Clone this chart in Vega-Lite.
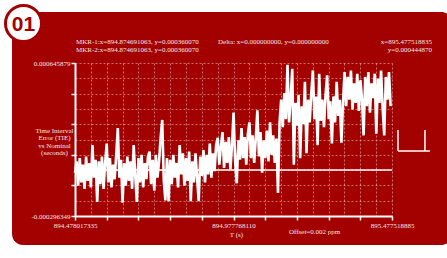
{
 "$schema": "https://vega.github.io/schema/vega-lite/v6.json",
 "width": 317, "height": 153,
 "autosize": {"type": "none"},
 "padding": {"left": 75, "top": 63, "right": 55, "bottom": 42},
 "background": "white",
 "config": {"view": {"stroke": null}, "font": "Liberation Serif"},
 "datasets": {
  "card": [{"t": -198.6, "t2": 1188.7, "y": -474.9, "y2": 960}],
  "rules": [
   {"t": 0, "t2": 999.5, "y": -13.68, "y2": -13.68},
   {"t": 1018.4, "t2": 1018.4, "y": 104, "y2": 233},
   {"t": 1018.4, "t2": 1119, "y": 104, "y2": 104},
   {"t": 1103.4, "t2": 1103.4, "y": 104, "y2": 233}
  ],
  "signal": [
   {"t":0,"y":-30},{"t":5,"y":40},{"t":10,"y":-110},{"t":15,"y":60},{"t":20,"y":-90},{"t":25,"y":20},{"t":30,"y":-130},{"t":35,"y":70},{"t":40,"y":-80},{"t":45,"y":30},
   {"t":50,"y":-120},{"t":55,"y":140},{"t":60,"y":-60},{"t":65,"y":50},{"t":70,"y":-210},{"t":75,"y":40},{"t":80,"y":-100},{"t":85,"y":70},{"t":90,"y":-130},{"t":95,"y":30},
   {"t":100,"y":150},{"t":105,"y":-90},{"t":110,"y":60},{"t":115,"y":-120},{"t":120,"y":20},{"t":125,"y":-70},{"t":130,"y":80},{"t":135,"y":245},{"t":140,"y":-60},{"t":145,"y":50},
   {"t":150,"y":-215},{"t":155,"y":30},{"t":160,"y":-110},{"t":165,"y":70},{"t":170,"y":-80},{"t":175,"y":40},{"t":180,"y":-130},{"t":185,"y":140},{"t":190,"y":-50},{"t":195,"y":-210},
   {"t":200,"y":60},{"t":205,"y":-90},{"t":210,"y":80},{"t":215,"y":-120},{"t":220,"y":30},{"t":225,"y":-70},{"t":230,"y":70},{"t":235,"y":100},{"t":240,"y":-100},{"t":245,"y":50},
   {"t":250,"y":-140},{"t":255,"y":80},{"t":260,"y":-60},{"t":265,"y":40},{"t":270,"y":185},{"t":275,"y":295},{"t":280,"y":-80},{"t":285,"y":-200},{"t":290,"y":60},{"t":295,"y":-205},
   {"t":300,"y":50},{"t":305,"y":-100},{"t":310,"y":80},{"t":315,"y":-60},{"t":320,"y":30},{"t":325,"y":-120},{"t":330,"y":140},{"t":335,"y":-40},{"t":340,"y":90},{"t":345,"y":-110},
   {"t":350,"y":60},{"t":355,"y":-80},{"t":360,"y":100},{"t":365,"y":-205},{"t":370,"y":40},{"t":375,"y":-90},{"t":380,"y":90},{"t":385,"y":-60},{"t":390,"y":-205},{"t":395,"y":70},
   {"t":400,"y":-50},{"t":405,"y":110},{"t":410,"y":-90},{"t":415,"y":80},{"t":420,"y":-40},{"t":425,"y":150},{"t":430,"y":-60},{"t":435,"y":90},
   {"t":440,"y":-20},{"t":445,"y":140},{"t":450,"y":185},{"t":455,"y":20},{"t":460,"y":130},{"t":465,"y":220},{"t":470,"y":0},{"t":475,"y":160},{"t":480,"y":30},{"t":485,"y":190},
   {"t":490,"y":-10},{"t":495,"y":140},{"t":500,"y":340},{"t":505,"y":40},{"t":510,"y":-95},{"t":515,"y":170},{"t":520,"y":50},{"t":525,"y":245},{"t":530,"y":60},{"t":535,"y":190},
   {"t":540,"y":20},{"t":545,"y":210},{"t":550,"y":280},{"t":555,"y":60},{"t":560,"y":200},{"t":565,"y":30},{"t":570,"y":180},{"t":575,"y":355},{"t":580,"y":70},{"t":585,"y":220},
   {"t":590,"y":-30},{"t":595,"y":170},{"t":600,"y":60},{"t":605,"y":230},{"t":610,"y":40},{"t":615,"y":280},{"t":620,"y":80},{"t":625,"y":200},{"t":630,"y":30},{"t":635,"y":180},
   {"t":640,"y":-155},
   {"t":645,"y":280},{"t":650,"y":420},{"t":655,"y":250},{"t":660,"y":460},{"t":665,"y":300},{"t":670,"y":635},{"t":675,"y":280},{"t":680,"y":430},{"t":685,"y":610},{"t":690,"y":20},
   {"t":695,"y":400},{"t":700,"y":260},{"t":705,"y":450},{"t":710,"y":60},{"t":715,"y":380},{"t":720,"y":270},{"t":725,"y":530},{"t":730,"y":90},{"t":735,"y":420},{"t":740,"y":280},
   {"t":745,"y":460},{"t":750,"y":600},{"t":755,"y":300},{"t":760,"y":440},{"t":765,"y":140},{"t":770,"y":580},{"t":775,"y":290},{"t":780,"y":420},{"t":785,"y":250},{"t":790,"y":450},
   {"t":795,"y":570},{"t":800,"y":300},{"t":805,"y":410},{"t":810,"y":150},{"t":815,"y":440},{"t":820,"y":280},{"t":825,"y":530},{"t":830,"y":320},{"t":835,"y":420},{"t":840,"y":155},
   {"t":845,"y":400},
   {"t":850,"y":590},{"t":855,"y":380},{"t":860,"y":560},{"t":865,"y":420},{"t":870,"y":600},{"t":875,"y":360},{"t":880,"y":520},{"t":885,"y":400},{"t":890,"y":580},{"t":895,"y":350},
   {"t":900,"y":540},{"t":905,"y":420},{"t":910,"y":200},{"t":915,"y":560},{"t":920,"y":380},{"t":925,"y":590},{"t":930,"y":340},{"t":935,"y":520},{"t":940,"y":430},{"t":945,"y":580},
   {"t":950,"y":210},{"t":955,"y":550},{"t":960,"y":400},{"t":965,"y":600},{"t":970,"y":370},{"t":975,"y":200},{"t":980,"y":560},{"t":985,"y":420},{"t":990,"y":590},{"t":995,"y":380}
  ],
  "notes_l": [
   {"t": 3.2, "y": 777, "txt": "MKR-1:x=894.874691063, y=0.000360070"},
   {"t": 3.2, "y": 726, "txt": "MKR-2:x=894.874691063, y=0.000360070"},
   {"t": 450.9, "y": 777, "txt": "Delta: x=0.000000000, y=0.000000000"},
   {"t": 674.7, "y": -394.9, "txt": "Offset=0.002 ppm"}
  ],
  "notes_r": [
   {"t": 1125.6, "y": 777, "txt": "x=895.477518835"},
   {"t": 1125.6, "y": 726, "txt": "y=0.000444870"}
  ],
  "badge": [{"t": -162.4, "y": 889.1, "txt": "01"}]
 },
 "encoding": {
  "x": {
   "field": "t", "type": "quantitative",
   "scale": {"domain": [0, 999.50155], "nice": false, "zero": false},
   "axis": {
    "zindex": 1,
    "values": [0, 49.9750775, 99.950155, 149.9252325, 199.90031, 249.8753875, 299.850465, 349.8255425, 399.80062, 449.7756775, 499.750775, 549.7258525, 599.70093, 649.6760075, 699.651085, 749.6261625, 799.60124, 849.5763175, 899.551395, 949.5264725, 999.50155],
    "labelExpr": "(datum.value == 0 || abs(datum.value - 499.750775) < 0.001 || datum.value > 999) ? format(894.478017335 + datum.value/1000, '.9f') : ''",
    "title": "T (s)",
    "titleFont": "Liberation Serif", "titleFontSize": 7, "titleFontWeight": "normal", "titleColor": "#f5e6e6",
    "titleX": 161, "titleY": 14.5, "titleAlign": "center", "titleBaseline": "top",
    "labelFont": "Liberation Serif", "labelFontSize": 7, "labelColor": "#f5e6e6", "labelPadding": 1.5,
    "labelOverlap": false, "labelFlush": false, "labelBound": false,
    "grid": true, "gridColor": "#ffffff", "gridOpacity": 0.55, "gridDash": [2, 2], "gridWidth": 0.8,
    "domainColor": "#ffffff", "domainWidth": 2,
    "tickColor": "#ffffff", "tickSize": 4, "tickWidth": 1.5,
    "tickOpacity": {"condition": {"test": "round(datum.value/49.9750775) % 2 == 0", "value": 1}, "value": 0}
   }
  },
  "y": {
   "field": "y", "type": "quantitative",
   "scale": {"domain": [-296.349, 645.879], "nice": false, "zero": false},
   "axis": {
    "zindex": 1,
    "values": [-296.349, -202.1262, -107.9034, -13.6806, 80.5422, 174.765, 268.9878, 363.2106, 457.4334, 551.6562, 645.879],
    "labelExpr": "(datum.value < -296 || datum.value > 645) ? replace(format(datum.value/1000000, '.9f'), '\u2212', '-') : ''",
    "title": ["Time Interval", "Error (TIE)", "vs Nominal", "(seconds)"],
    "titleFont": "Liberation Serif", "titleFontSize": 7, "titleFontWeight": "normal", "titleColor": "#f5e6e6",
    "titleAngle": 0, "titleAlign": "center", "titleBaseline": "top", "titleX": -21, "titleY": 63.5, "titleLineHeight": 7.4,
    "labelFont": "Liberation Serif", "labelFontSize": 7, "labelColor": "#f5e6e6", "labelPadding": 1,
    "labelOverlap": false, "labelFlush": false, "labelBound": false,
    "grid": true, "gridColor": "#ffffff", "gridOpacity": 0.55, "gridDash": [2, 2], "gridWidth": 0.8,
    "domainColor": "#ffffff", "domainWidth": 2,
    "tickColor": "#ffffff", "tickSize": 4, "tickWidth": 1.5,
    "tickOpacity": {"condition": {"test": "round((datum.value + 296.349)/94.2228) % 2 == 0", "value": 1}, "value": 0}
   }
  }
 },
 "layer": [
  {"data": {"name": "card"}, "mark": {"type": "rect", "color": "#a30000", "cornerRadius": 11},
   "encoding": {"x2": {"field": "t2"}, "y2": {"field": "y2"}}},
  {"data": {"name": "rules"}, "mark": {"type": "rule", "color": "#ffffff", "strokeWidth": 1.5},
   "encoding": {"x2": {"field": "t2"}, "y2": {"field": "y2"}}},
  {"data": {"name": "signal"}, "mark": {"type": "line", "color": "#ffffff", "strokeWidth": 2.6, "strokeJoin": "miter", "strokeMiterLimit": 3}},
  {"data": {"name": "notes_l"}, "mark": {"type": "text", "align": "left", "baseline": "middle", "font": "Liberation Serif", "fontSize": 7, "color": "#f5e6e6"},
   "encoding": {"text": {"field": "txt"}}},
  {"data": {"name": "notes_r"}, "mark": {"type": "text", "align": "right", "baseline": "middle", "font": "Liberation Serif", "fontSize": 7, "color": "#f5e6e6"},
   "encoding": {"text": {"field": "txt"}}},
  {"data": {"name": "badge"}, "mark": {"type": "point", "shape": "circle", "filled": false, "fill": "#ffffff", "fillOpacity": 1, "stroke": "#a30000", "strokeWidth": 3, "size": 1300, "opacity": 1}},
  {"data": {"name": "badge"}, "mark": {"type": "text", "align": "center", "baseline": "alphabetic", "dy": 7.5, "font": "Liberation Sans", "fontWeight": "bold", "fontSize": 21, "color": "#a30000"},
   "encoding": {"text": {"field": "txt"}}}
 ]
}
